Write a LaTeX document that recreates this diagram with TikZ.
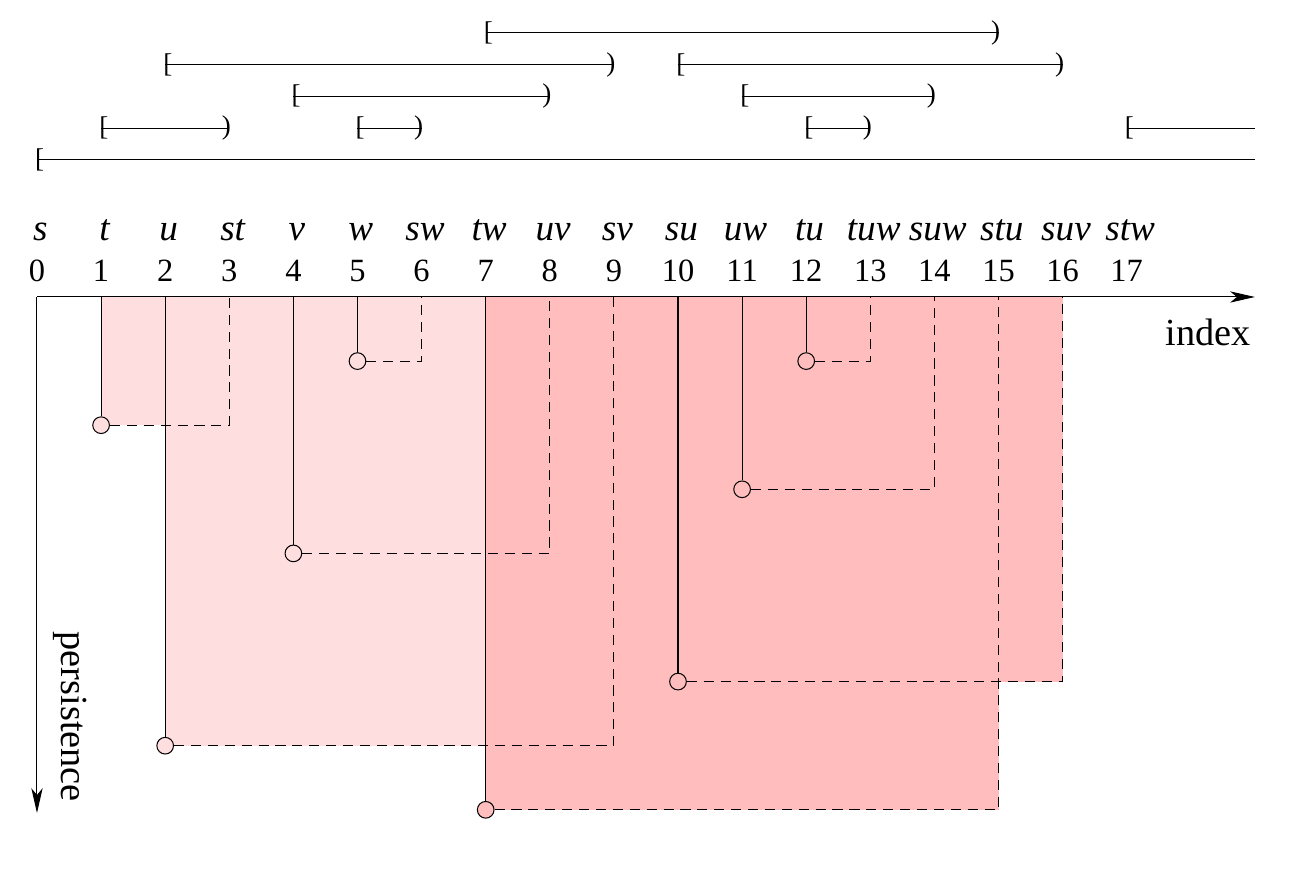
\documentclass[tikz,border=0pt]{standalone}
\usepackage{fontspec}
\setmainfont{Liberation Serif}
\usetikzlibrary{arrows.meta}
\definecolor{lightred}{RGB}{255,222,223}
\definecolor{midred}{RGB}{255,189,189}

\begin{document}
\begin{tikzpicture}[line width=0.45pt,
  dot/.style = {draw, circle, inner sep=0pt, minimum size=0.26cm},
  kill/.style = {dash pattern=on 4.5pt off 3pt},
  axis/.style = {-{Stealth[length=11pt,width=5pt,inset=3pt]}},
  num/.style = {anchor=base, inner sep=0pt, font=\fontsize{14.4}{17}\selectfont},
  simp/.style = {anchor=base, inner sep=0pt, xshift=1.5pt, font=\fontsize{16.5}{19}\selectfont\itshape},
  word/.style = {inner sep=0pt, font=\fontsize{17}{20}\selectfont},
  open/.style = {anchor=west, inner sep=0pt, xshift=-1pt, font=\fontsize{12}{14}\selectfont},
  close/.style = {anchor=east, inner sep=0pt, xshift=0.9pt, font=\fontsize{12}{14}\selectfont}]
\useasboundingbox (-0.577,-8.94) rectangle (19.563,4.633);

% shaded regions
\fill[lightred] (1,0) rectangle (3,-2);
\fill[lightred] (2,0) rectangle (9,-7);
\fill[midred] (7,0) rectangle (15,-8);
\fill[midred] (10,0) rectangle (16,-6);

% axes
\draw[axis] (0,0) -- (19,0);
\draw[axis] (0,0) -- (0,-8.05);
\node[word] (idx) at (18.27,-0.55) {index};
\node[word, rotate=-90] (pers) at (0.52,-6.55) {persistence};

% simplices and indices
\foreach \i/\s in {0/s,1/t,2/u,3/st,4/v,5/w,6/sw,7/tw,8/uv,9/sv,10/su,11/uw,12/tu,13/tuw,14/suw,15/stu,16/suv,17/stw} {
  \coordinate (a\i) at (\i,0);
  \node[num] (n\i) at (\i,0.234) {\i};
  \node[simp] (l\i) at (\i,0.874) {\s};
}

% persistence pairs
\foreach \b/\d/\p/\c in {1/3/2/lightred,2/9/7/lightred,4/8/4/lightred,5/6/1/lightred,7/15/8/midred,10/16/6/midred,11/14/3/midred,12/13/1/midred} {
  \node[dot, fill=\c] (p\b) at (\b,-\p) {};
  \draw (a\b) -- (p\b);
  \draw[kill] (p\b) -- (p\b -| a\d) -- (a\d);
}

% barcode
\foreach \b/\d/\r in {1/3/2,5/6/2,12/13/2,4/8/3,11/14/3,2/9/4,10/16/4,7/15/5}
  \draw (\b,1.645+0.495*\r) node[open] (o\b) {[} -- (\d,1.645+0.495*\r) node[close] (c\b) {)};
\draw (0,2.14) node[open] (o0) {[} -- (19,2.14);
\draw (17,2.635) node[open] (o17) {[} -- (19,2.635);
\end{tikzpicture}
\end{document}
